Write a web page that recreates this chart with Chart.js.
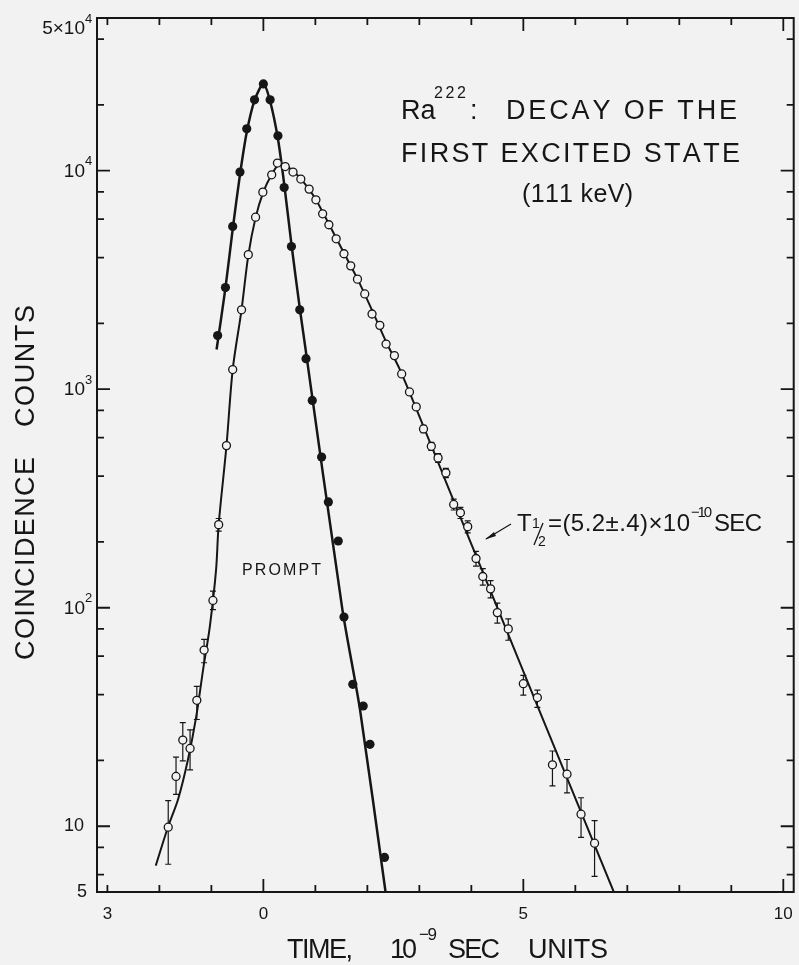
<!DOCTYPE html>
<html>
<head>
<meta charset="utf-8">
<script src="https://cdn.jsdelivr.net/npm/chart.js@4.4.1/dist/chart.umd.min.js"></script>
<style>
  html, body { margin: 0; padding: 0; background: #f2f2f2; }
  #wrap { position: relative; width: 799px; height: 965px; }
</style>
</head>
<body>
<div id="wrap"><canvas id="chart"></canvas></div>
<script>
// Delayed coincidences (open circles), time in 10^-9 s
const delayedX = [-1.83, -1.68, -1.55, -1.41, -1.28, -1.14, -0.97, -0.86, -0.71, -0.59, -0.42, -0.29, -0.15, -0.01,
  0.16, 0.27, 0.42, 0.57, 0.72, 0.88, 1.01, 1.14, 1.26, 1.40, 1.55, 1.68, 1.81, 1.95, 2.09, 2.24, 2.36, 2.52, 2.66,
  2.81, 2.94, 3.08, 3.23, 3.36, 3.51, 3.66, 3.79, 3.93, 4.09, 4.22, 4.37, 4.50, 4.71, 5.00, 5.27, 5.56, 5.84, 6.11, 6.37];
const delayedY = [9.9, 16.9, 24.8, 22.7, 37.7, 64, 108, 240, 552, 1230, 2310, 4130, 6130, 7980,
  9580, 10840, 10450, 9860, 9160, 8240, 7360, 6350, 5660, 4880, 4170, 3670, 3190, 2730, 2210, 1960, 1610, 1425, 1175,
  972, 830, 658, 548, 485, 414, 297, 272, 235, 168, 139, 122, 95, 80, 44.9, 38.8, 19.1, 17.3, 11.35, 8.36];
// error bar ends (null = no bar drawn)
const delayedErrLo = [6.7, 14, 19.9, 18.1, 30.8, 56, 98, 224, null, null, null, null, null, null,
  null, null, null, null, null, null, null, null, null, null, null, null, null, null, null, null, null, null, null,
  null, null, 633, 525, 463, 394, 280, 256, 220, 155, 127, 111, 85, 71, 39.8, 35, 15.3, 14.2, 8.9, 5.9];
const delayedErrHi = [13.1, 20.7, 29.8, 27.6, 43.7, 71.6, 119, 256, null, null, null, null, null, null,
  null, null, null, null, null, null, null, null, null, null, null, null, null, null, null, null, null, null, null,
  null, null, 683, 571, 507, 434, 314, 288, 250, 181, 151, 133, 105, 89, 49, 42, 22.1, 20.2, 13.5, 10.6];

// Prompt coincidences (filled dots)
const promptX = [-0.88, -0.73, -0.59, -0.45, -0.32, -0.17, 0, 0.13, 0.28, 0.40, 0.54, 0.70, 0.82, 0.94, 1.12, 1.25,
  1.44, 1.55, 1.72, 1.92, 2.05, 2.33];
const promptY = [1760, 2920, 5560, 9860, 15550, 21100, 24950, 21100, 14450, 8380, 4500, 2310, 1380, 889, 489, 305,
  202, 90.6, 44.6, 35.5, 23.7, 7.2];

// Drawn curves through the points
const promptFitX = [-0.90, -0.73, -0.59, -0.45, -0.32, -0.17, 0, 0.13, 0.28, 0.40, 0.54, 0.70, 0.785, 1.52, 1.86, 2.35];
const promptFitY = [1520, 2900, 5400, 9600, 15000, 21000, 25000, 20800, 14000, 8700, 4600, 2350, 1690, 98, 34, 5];
const delayedFitX = [-2.07, -1.83, -1.64, -1.45, -1.29, -1.16, -1.03, -0.91, -0.86, -0.71, -0.59, -0.42, -0.29, -0.15,
  0, 0.16, 0.30, 0.45, 0.60, 0.72, 1.0, 1.26, 1.55, 1.81, 2.09, 2.36, 2.66, 3.5, 4.5, 5.5, 6.74];
const delayedFitY = [6.6, 10, 13.3, 20.2, 31.9, 52, 82, 149, 240, 550, 1230, 2310, 4100, 6100,
  8000, 9600, 10700, 10500, 9800, 9200, 7450, 5700, 4200, 3200, 2300, 1650, 1180, 383, 100, 26.2, 5];

// Axis ticks and labels
const xTickValues = [-3, -2, -1, 0, 1, 2, 3, 4, 5, 6, 7, 8, 9, 10];
const xMajorTicks = [0, 5, 10];
const xTickLabels = [[-3, '3'], [0, '0'], [5, '5'], [10, '10']];
const yMajorTicks = [10, 100, 1000, 10000];
const yMinorTicks = [6, 8, 20, 40, 60, 80, 200, 400, 600, 800, 2000, 4000, 6000, 8000, 20000, 40000];
const yTickLabels = [[50000, '5×10', '4'], [10000, '10', '4'], [1000, '10', '3'], [100, '10', '2'], [10, '10', ''], [5, '5', '']];

const INK = '#161616';
const PAPER = '#f2f2f2';
const FONT = '"Liberation Sans", Arial, sans-serif';

const toPts = (xs, ys) => xs.map((x, i) => ({ x: x, y: ys[i] }));

// draw text so that it spans x0..x1, spreading the extra room between letters
function spaced(ctx, str, x0, x1, y) {
    const chars = [...str];
    const w = chars.map(c => ctx.measureText(c).width);
    const total = w.reduce((a, b) => a + b, 0);
    const gap = chars.length > 1 ? (x1 - x0 - total) / (chars.length - 1) : 0;
    let x = x0;
    ctx.textAlign = 'left';
    chars.forEach((c, i) => {
        ctx.fillText(c, x, y);
        x += w[i] + gap;
    });
}

const errorBars = {
    id: 'errorBars',
    beforeDatasetsDraw(chart) {
        const { ctx, scales: { x, y } } = chart;
        ctx.save();
        ctx.strokeStyle = INK;
        ctx.lineWidth = 1.2;
        delayedX.forEach((v, i) => {
            if (delayedErrLo[i] == null) return;
            const px = x.getPixelForValue(v);
            const y1 = y.getPixelForValue(delayedErrHi[i]);
            const y2 = y.getPixelForValue(delayedErrLo[i]);
            ctx.beginPath();
            ctx.moveTo(px, y1); ctx.lineTo(px, y2);
            ctx.moveTo(px - 3, y1); ctx.lineTo(px + 3, y1);
            ctx.moveTo(px - 3, y2); ctx.lineTo(px + 3, y2);
            ctx.stroke();
        });
        ctx.restore();
    }
};

const frameAndText = {
    id: 'frameAndText',
    afterDraw(chart) {
        const { ctx, chartArea: a, scales: { x, y } } = chart;
        ctx.save();
        ctx.strokeStyle = INK;
        ctx.fillStyle = INK;

        // frame
        ctx.lineWidth = 2;
        ctx.strokeRect(a.left, a.top, a.right - a.left, a.bottom - a.top);

        // inward ticks on all four sides
        ctx.lineWidth = 1.8;
        ctx.beginPath();
        xTickValues.forEach(v => {
            const px = x.getPixelForValue(v);
            const len = xMajorTicks.includes(v) ? 13 : 7;
            ctx.moveTo(px, a.bottom); ctx.lineTo(px, a.bottom - len);
            ctx.moveTo(px, a.top); ctx.lineTo(px, a.top + len);
        });
        yMajorTicks.concat(yMinorTicks).forEach(v => {
            const py = y.getPixelForValue(v);
            const len = yMajorTicks.includes(v) ? 13 : 7;
            ctx.moveTo(a.left, py); ctx.lineTo(a.left + len, py);
            ctx.moveTo(a.right, py); ctx.lineTo(a.right - len, py);
        });
        ctx.stroke();

        // x tick labels
        ctx.font = '17px ' + FONT;
        ctx.textAlign = 'center';
        ctx.textBaseline = 'middle';
        xTickLabels.forEach(([v, t]) => ctx.fillText(t, x.getPixelForValue(v), a.bottom + 22));

        // y tick labels with exponents
        yTickLabels.forEach(([v, base, exp]) => {
            let py = y.getPixelForValue(v);
            if (v === 50000) py += 10;
            ctx.textBaseline = 'middle';
            if (exp) {
                ctx.font = '13px ' + FONT;
                ctx.textAlign = 'left';
                ctx.fillText(exp, 85, py - 9);
                ctx.font = '19px ' + FONT;
                ctx.textAlign = 'right';
                ctx.fillText(base, 85, py + 1);
            } else {
                ctx.font = '18px ' + FONT;
                ctx.textAlign = 'right';
                ctx.fillText(base, v === 5 ? 87 : 84, py);
            }
        });

        // axis titles
        ctx.textBaseline = 'alphabetic';
        ctx.font = '27px ' + FONT;
        spaced(ctx, 'TIME,', 287, 353, 958);
        spaced(ctx, '10', 390, 417, 958);
        spaced(ctx, 'SEC', 448, 500, 958);
        spaced(ctx, 'UNITS', 528, 608, 958);
        ctx.font = '17px ' + FONT;
        spaced(ctx, '−9', 419, 437, 940);

        ctx.save();
        ctx.translate(34, 660);
        ctx.rotate(-Math.PI / 2);
        ctx.font = '27px ' + FONT;
        spaced(ctx, 'COINCIDENCE', 0, 203, 0);
        spaced(ctx, 'COUNTS', 233, 355, 0);
        ctx.restore();

        // title block
        ctx.font = '27px ' + FONT;
        ctx.textAlign = 'left';
        ctx.fillText('Ra', 401, 119);
        ctx.font = '16px ' + FONT;
        spaced(ctx, '222', 434, 466, 98);
        ctx.font = '27px ' + FONT;
        ctx.fillText(':', 470, 119);
        spaced(ctx, 'DECAY OF THE', 506, 737, 119);
        spaced(ctx, 'FIRST EXCITED STATE', 401, 740, 162);
        ctx.font = '25px ' + FONT;
        spaced(ctx, '(111 keV)', 522, 633, 202);

        // PROMPT label
        ctx.font = '16px ' + FONT;
        spaced(ctx, 'PROMPT', 242, 321, 575);

        // half-life label with arrow
        const by = 531;
        ctx.font = '24px ' + FONT;
        ctx.fillText('T', 517, by);
        ctx.font = '14px ' + FONT;
        ctx.fillText('1', 532, by - 3);
        ctx.fillText('2', 538, by + 15);
        ctx.lineWidth = 1.3;
        ctx.beginPath();
        ctx.moveTo(534, by + 14); ctx.lineTo(543, by - 8);
        ctx.stroke();
        ctx.font = '24px ' + FONT;
        spaced(ctx, '=(5.2±.4)×10', 548, 690, by);
        ctx.font = '15px ' + FONT;
        spaced(ctx, '−10', 691, 712, by - 14);
        ctx.font = '24px ' + FONT;
        spaced(ctx, 'SEC', 714, 762, by);

        ctx.lineWidth = 1.2;
        ctx.beginPath();
        ctx.moveTo(511, 524); ctx.lineTo(486, 539);
        ctx.stroke();
        ctx.beginPath();
        ctx.moveTo(485, 539.5);
        ctx.lineTo(494, 532);
        ctx.lineTo(496, 536);
        ctx.closePath();
        ctx.fill();

        ctx.restore();
    }
};

new Chart(document.getElementById('chart'), {
    type: 'scatter',
    data: {
        datasets: [
            {
                label: 'delayed',
                data: toPts(delayedX, delayedY),
                pointRadius: 4,
                pointBorderWidth: 1.3,
                pointBorderColor: INK,
                pointBackgroundColor: PAPER,
                order: 0
            },
            {
                label: 'prompt',
                data: toPts(promptX, promptY),
                pointRadius: 4.6,
                pointBorderWidth: 0,
                pointBackgroundColor: INK,
                order: 1
            },
            {
                label: 'delayed fit',
                data: toPts(delayedFitX, delayedFitY),
                showLine: true,
                pointRadius: 0,
                borderColor: INK,
                borderWidth: 2,
                tension: 0.3,
                order: 2
            },
            {
                label: 'prompt fit',
                data: toPts(promptFitX, promptFitY),
                showLine: true,
                pointRadius: 0,
                borderColor: INK,
                borderWidth: 2.5,
                tension: 0.25,
                order: 3
            }
        ]
    },
    options: {
        responsive: true,
        maintainAspectRatio: false,
        animation: false,
        layout: { padding: { left: 97, right: 2, top: 18, bottom: 73 } },
        plugins: { legend: { display: false }, tooltip: { enabled: false } },
        scales: {
            x: { type: 'linear', min: -3.2, max: 10.2, display: false },
            y: { type: 'logarithmic', min: 5, max: 50000, display: false }
        }
    },
    plugins: [errorBars, frameAndText]
});
</script>
</body>
</html>
